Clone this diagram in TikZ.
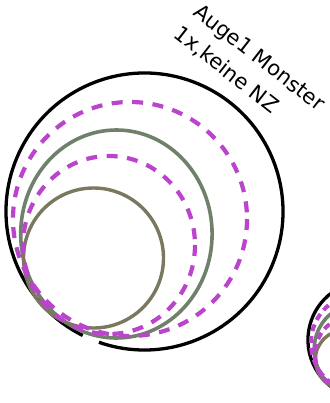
\documentclass[tikz,border=0pt]{standalone}
\usepackage{fontspec}
\setmainfont{DejaVu Sans}
\definecolor{mag}{HTML}{BB44CC}
\definecolor{grn}{HTML}{6F806B}
\definecolor{olv}{HTML}{7A785E}
\tikzset{
  blackring/.style={draw=black, line width=3.3pt},
  greenring/.style={draw=grn, line width=3.6pt},
  olivering/.style={draw=olv, line width=3.4pt},
  dashmag/.style={draw=mag, line width=4.2pt, dash pattern=on 11pt off 9.5pt},
  lbl/.style={font=\fontsize{21}{30}\selectfont, align=left, rotate=-38, inner sep=0pt}
}
\newcommand{\eyesymbol}{%
  \draw[blackring] (144.5,211.5) ++(116.5:138.5) arc[start angle=116.5, end angle=469.2, radius=138.5];
  \draw[greenring] (116.4,234) ellipse[x radius=95.7, y radius=104];
  \draw[olivering] (93.5,258) circle[radius=70];
  \draw[dashmag] (130,219) circle[radius=117];
  \draw[dashmag] (109,245) ellipse[x radius=86, y radius=89];
}
\begin{document}
\begin{tikzpicture}[x=1pt, y=-1pt]
  \useasboundingbox (0,0) rectangle (329,403);
  \eyesymbol
  \begin{scope}[shift={(305.4,250.3)}, scale=0.424, dashmag/.style={draw=mag, line width=4pt, dash pattern=on 7pt off 5pt}]
    \eyesymbol
  \end{scope}
  \node[lbl] (label) at (250,70) {Auge1 Monster\\\hspace*{-2pt}1x,keine NZ};
\end{tikzpicture}
\end{document}
